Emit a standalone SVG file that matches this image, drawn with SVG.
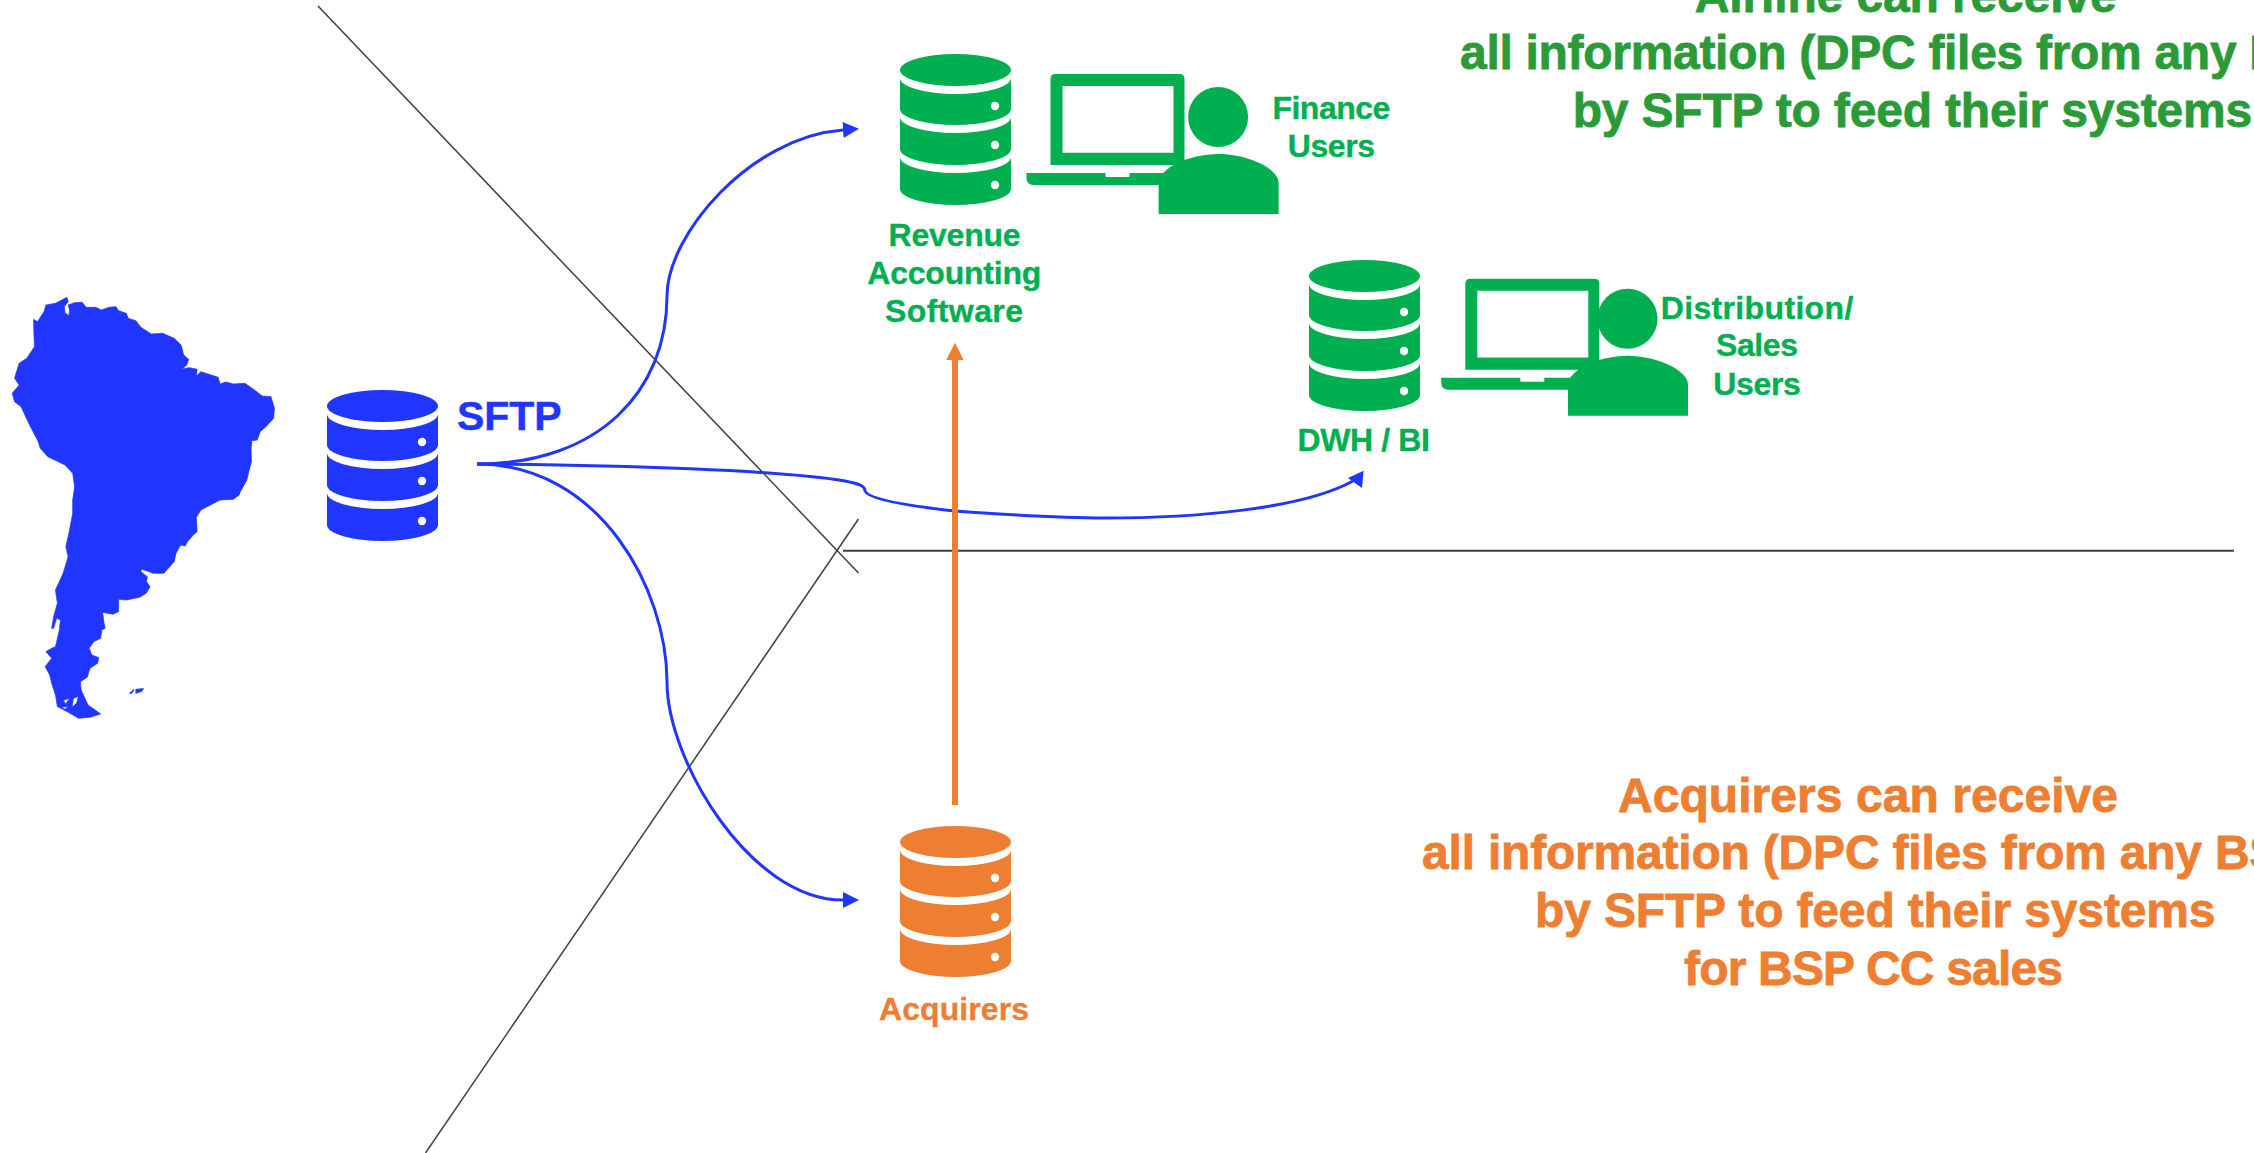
<svg xmlns="http://www.w3.org/2000/svg" xmlns:xlink="http://www.w3.org/1999/xlink" width="2254" height="1153" viewBox="0 0 2254 1153">
<style>
text{font-family:"Liberation Sans",Arial,sans-serif;font-weight:700}
.sm{font-size:32px;text-anchor:middle;stroke-width:.35px}
.big{font-size:48px;stroke-width:.8px}
.g{fill:#00AF50}.g text{stroke:#00AF50}
.o{fill:#EE7E31}.o text{stroke:#EE7E31}
.b{fill:#2036FF}.b text{stroke:#2036FF;stroke-width:.5px}
.dg{fill:#2B9B38}.dg text{stroke:#2B9B38}
.thin{fill:none;stroke:#404040;stroke-width:1.5}
.blue{fill:none;stroke:#2036FF;stroke-width:3}
.tip{marker-end:url(#ab)}
</style>
<defs>
<marker id="ab" markerUnits="userSpaceOnUse" markerWidth="18" markerHeight="18" refX="0" refY="8" orient="auto"><path d="M0 0L16 8L0 16Z" fill="#2036FF"/></marker>
<symbol id="db" width="111" height="151" viewBox="0 0 111 151" overflow="visible">
<ellipse cx="55.5" cy="16" rx="55.5" ry="16"/>
<path d="M0 24A55.500 16 0 0 0 111 24V55A55.500 16 0 0 1 0 55Z"/>
<path d="M0 63A55.500 16 0 0 0 111 63V95A55.500 16 0 0 1 0 95Z"/>
<path d="M0 103A55.500 16 0 0 0 111 103V135A55.500 16 0 0 1 0 135Z"/>
<circle cx="95" cy="52" r="4.200" fill="#fff"/><circle cx="95" cy="91" r="4.200" fill="#fff"/><circle cx="95" cy="131" r="4.200" fill="#fff"/>
</symbol>
<symbol id="laptop" width="160" height="112" viewBox="0 0 160 112" overflow="visible">
<path fill-rule="evenodd" d="M5 0H129Q134 0 134 5V91H0V5Q0 0 5 0ZM12 12V78.700H123V12Z" transform="translate(24 0)"/>
<path d="M0 99H79V102Q79 103 80 103H102Q103 103 103 102V99H160V111H7Q0 111 0 104Z"/>
</symbol>
<symbol id="person" width="120" height="127" viewBox="0 0 120 127" overflow="visible">
<ellipse cx="59.500" cy="30" rx="30" ry="30"/>
<path d="M0 127V96C0 81 31 67 59.500 67S120 81 120 96V127Z"/>
</symbol>
</defs>

<g id="separators">
<path class="thin" d="M318 6L858.500 573"/>
<path class="thin" d="M425.500 1153L858.500 519"/>
<path class="thin" style="stroke-width:2" d="M843 550.700H2234"/>
</g>

<g id="connectors">
<path class="blue tip" d="M477 464C600 464 667 390 667 296C667 235 750 137 843 130"/>
<path class="blue tip" d="M477 464C600 464 667 590 667 682C667 760 750 900 843 900"/>
<path class="blue" d="M477 464C620 465 780 470 845 481C860 484 865 486 865 491C868 498 900 505 955 511C1010 515 1060 518 1105 518C1190 518 1300 510 1353 481"/>
<path d="M1363.600 470.700L1348 478L1362 488Z" fill="#2036FF"/>
<path d="M955 805V360" fill="none" stroke="#EE7E31" stroke-width="6"/>
<path d="M955 342.700L963.700 360H946.300Z" fill="#EE7E31"/>
</g>

<g id="south-america" class="b">
<path fill-rule="evenodd" stroke="#2036FF" stroke-width="2" stroke-linejoin="round" transform="translate(0 270) scale(.3827 .3333)" d="M175 82L178 95L168 110L170 128L180 137L182 120L178 105L195 98L215 97L225 112L250 112L265 120L285 112L303 110L310 122L330 130L335 145L355 152L368 172L395 192L425 190L455 205L473 225L480 255L493 268L488 285L476 297L495 293L515 298L513 318L525 305L570 322L575 342L590 336L610 342L640 340L665 360L685 378L708 380L717 415L715 445L695 470L680 485L672 510L658 512L656 540L657 575L650 605L645 630L628 665L625 675L610 688L575 690L550 705L525 720L513 742L515 785L505 795L490 815L484 828L472 825L460 850L455 875L440 895L428 910L400 910L370 897L368 905L385 920L383 935L392 950L382 970L365 982L330 990L310 988L310 1025L295 1033L268 1027L272 1060L275 1075L266 1080L263 1105L245 1115L233 1135L240 1155L258 1163L255 1180L235 1195L228 1222L210 1235L212 1260L218 1275L230 1305L263 1332L235 1342L205 1345L180 1328L150 1310L145 1275L135 1240L130 1215L118 1190L135 1165L120 1145L135 1135L145 1130L155 1080L158 1050L148 1045L140 1075L135 1075L140 1040L150 1000L145 960L165 910L178 860L172 830L180 790L190 730L190 690L195 650L190 610L170 585L125 560L105 535L100 515L75 460L55 410L38 395L32 370L50 345L38 325L50 280L70 265L90 230L88 170L88 148L98 155L115 125L120 105L145 100ZM165 1292L182 1284L172 1302ZM192 1285L205 1280L200 1300L188 1312ZM160 1312L178 1310L170 1318ZM338 1270L350 1258L345 1270ZM355 1258L375 1256L370 1265L355 1270Z"/>
</g>

<g id="sftp" class="b">
<use xlink:href="#db" href="#db" x="327" y="390"/>
<text x="457" y="430" font-size="41" textLength="104.500">SFTP</text>
</g>

<g id="revenue-accounting" class="g">
<use xlink:href="#db" href="#db" x="900" y="54"/>
<text class="sm" x="954.600" y="246" textLength="132">Revenue</text>
<text class="sm" x="954.300" y="284" textLength="174">Accounting</text>
<text class="sm" x="954" y="321.700" textLength="138">Software</text>
</g>

<g id="finance-users" class="g">
<use xlink:href="#laptop" href="#laptop" x="1026.500" y="74"/>
<use xlink:href="#person" href="#person" x="1158.600" y="87"/>
<text class="sm" x="1331.400" y="119" textLength="118">Finance</text>
<text class="sm" x="1331.400" y="156.700" textLength="87.500">Users</text>
</g>

<g id="dwh-bi" class="g">
<use xlink:href="#db" href="#db" x="1309" y="260"/>
<text class="sm" x="1363.700" y="450.700" textLength="132.400">DWH / BI</text>
</g>

<g id="distribution-users" class="g">
<use xlink:href="#laptop" href="#laptop" x="1441.300" y="278.700"/>
<use xlink:href="#person" href="#person" x="1568" y="288.700"/>
<text class="sm" x="1757" y="318.700" textLength="192.600">Distribution/</text>
<text class="sm" x="1757" y="356" textLength="82">Sales</text>
<text class="sm" x="1757" y="394.700" textLength="87.600">Users</text>
</g>

<g id="acquirers" class="o">
<use xlink:href="#db" href="#db" x="900" y="826"/>
<text class="sm" x="954" y="1020" textLength="150">Acquirers</text>
</g>

<g id="airline-note" class="dg">
<text class="big" x="1694.700" y="12" textLength="422">Airline can receive</text>
<text class="big" x="1460" y="69" letter-spacing="-.3">all information (DPC files from any B</text>
<text class="big" x="1572.700" y="127" textLength="679.600">by SFTP to feed their systems</text>
</g>

<g id="acquirers-note" class="o">
<text class="big" x="1618" y="812" textLength="500">Acquirers can receive</text>
<text class="big" x="1422" y="869" letter-spacing="-.2">all information (DPC files from any BS</text>
<text class="big" x="1535" y="927" textLength="680.500">by SFTP to feed their systems</text>
<text class="big" x="1684" y="985" textLength="379">for BSP CC sales</text>
</g>
</svg>
